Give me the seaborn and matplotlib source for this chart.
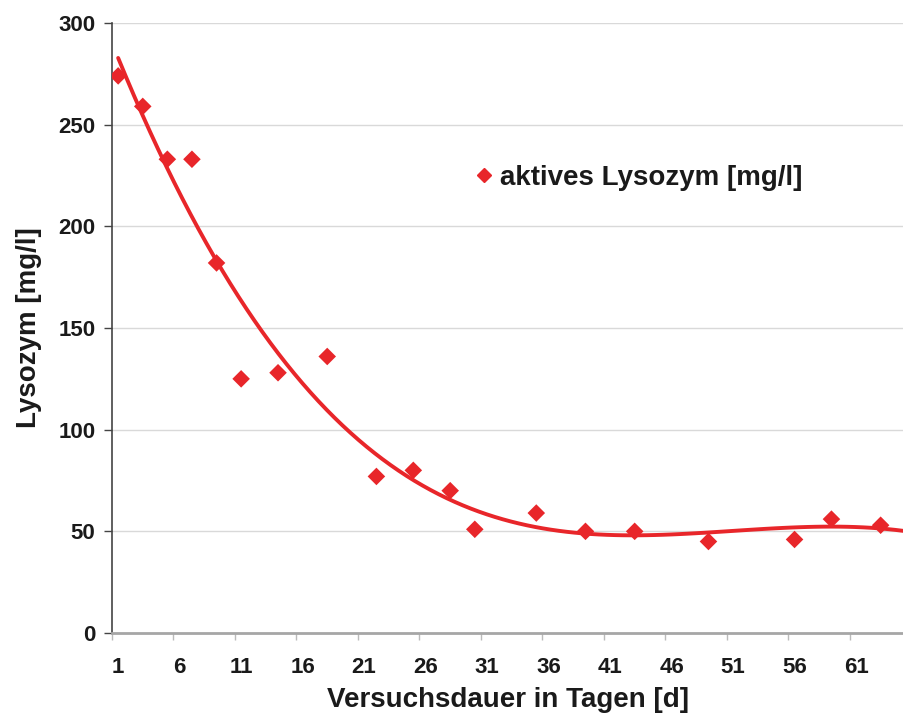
import numpy as np
import pandas as pd
import matplotlib
matplotlib.use("Agg")
import matplotlib.pyplot as plt
import seaborn as sns
from matplotlib.lines import Line2D
from matplotlib.ticker import FixedLocator

days = [1, 3, 5, 7, 9, 11, 14, 18, 22, 25, 28, 30, 35, 39, 43, 49, 56, 59, 63]
lysozym = [274, 259, 233, 233, 182, 125, 128, 136, 77, 80, 70, 51, 59, 50, 50, 45, 46, 56, 53]
xticks = [1, 6, 11, 16, 21, 26, 31, 36, 41, 46, 51, 56, 61]
yticks = [0, 50, 100, 150, 200, 250, 300]
series_label = "aktives Lysozym [mg/l]"
xlabel = "Versuchsdauer in Tagen [d]"
ylabel = "Lysozym [mg/l]"

df = pd.DataFrame({"Tag": days, "Lysozym": lysozym})

sns.set_theme(style="white")
plt.rcParams["font.family"] = ["Liberation Sans", "DejaVu Sans"]
red = "#e8262a"

fig = plt.figure(figsize=(9.04, 7.13), dpi=100)
ax = fig.add_axes([0.1239, 0.1122, 0.8761, 0.8555])

for y in yticks[1:]:
    ax.axhline(y, color="#d9d9d9", lw=1.0, zorder=0)

ax.set_xlim(1, 65.5)
sns.regplot(data=df, x="Tag", y="Lysozym", order=3, ci=None, scatter=False,
            truncate=False, ax=ax, line_kws=dict(color=red, lw=2.8, zorder=3))
sns.scatterplot(data=df, x="Tag", y="Lysozym", marker="D", s=80, color=red,
                edgecolor="none", ax=ax, zorder=4)

ax.set_xlim(0.5, 64.9)
ax.set_ylim(0, 300)
ax.xaxis.set_major_locator(FixedLocator(xticks))
ax.xaxis.set_minor_locator(FixedLocator([t - 0.5 for t in xticks]))
ax.yaxis.set_major_locator(FixedLocator(yticks))
ax.tick_params(axis="x", which="major", length=0, pad=17, labelsize=16, labelcolor="#1a1a1a")
ax.tick_params(axis="x", which="minor", length=5, width=1, color="#bbbbbb", direction="out", bottom=True)
ax.tick_params(axis="y", which="major", length=6, width=1, color="#444444", direction="out", left=True,
               pad=6, labelsize=16, labelcolor="#1a1a1a")
for lab in ax.get_xticklabels() + ax.get_yticklabels():
    lab.set_fontweight("bold")

sns.despine(ax=ax)
ax.spines["left"].set_color("#444444")
ax.spines["left"].set_linewidth(1.2)
ax.spines["bottom"].set_color("#a6a6a6")
ax.spines["bottom"].set_linewidth(2.0)

ax.set_xlabel(xlabel, fontsize=20, fontweight="bold", color="#1a1a1a")
ax.xaxis.set_label_coords(0.5, -0.0885)
ax.set_ylabel(ylabel, fontsize=20, fontweight="bold", color="#1a1a1a", labelpad=12)

handle = Line2D([], [], marker="D", linestyle="none", color=red, markersize=7)
leg = ax.legend([handle], [series_label], loc="center left", bbox_to_anchor=(0.42, 0.746),
                frameon=False, fontsize=20, handletextpad=0.1, handlelength=1.0)
for t in leg.get_texts():
    t.set_fontweight("bold")
    t.set_color("#1a1a1a")

fig.savefig("out.png", dpi=100)
